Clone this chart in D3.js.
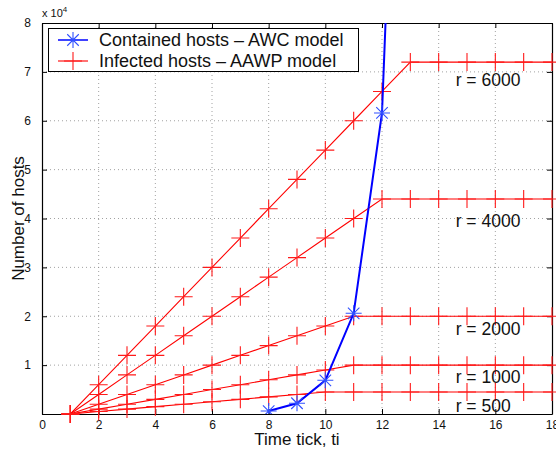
<!DOCTYPE html>
<html><head><meta charset="utf-8">
<script src="https://cdn.jsdelivr.net/npm/d3@7"></script>
<style>
body{margin:0;background:#fff;}
svg{display:block;font-family:"Liberation Sans",Arial,Helvetica,sans-serif;}
</style></head>
<body>
<script>
// ---- data ----
const timeTicks = d3.range(1, 19); // t = 1..18
const rValues = [500, 1000, 2000, 4000, 6000];
const infected500  = [0,500,1000,1500,2000,2500,3000,3500,4000,4500,4500,4500,4500,4500,4500,4500,4500,4500];
const infected1000 = [0,1000,2000,3000,4000,5000,6000,7000,8000,9000,10000,10000,10000,10000,10000,10000,10000,10000];
const infected2000 = [0,2000,4000,6000,8000,10000,12000,14000,16000,18000,20000,20000,20000,20000,20000,20000,20000,20000];
const infected4000 = [0,4000,8000,12000,16000,20000,24000,28000,32000,36000,40000,44000,44000,44000,44000,44000,44000,44000];
const infected6000 = [0,6000,12000,18000,24000,30000,36000,42000,48000,54000,60000,66000,72000,72000,72000,72000,72000,72000];
const containedTicks = [8, 9, 10, 11, 12, 13];
const containedValues = [600, 2200, 6900, 20600, 61600, 210000];
const rLabels = ["r = 500", "r = 1000", "r = 2000", "r = 4000", "r = 6000"];
const rLabelX = [14.6, 14.6, 14.6, 14.6, 14.6];
const rLabelY = [1600, 7600, 17400, 39600, 68300];
const xTickValues = [0,2,4,6,8,10,12,14,16,18];
const yTickValues = [0,10000,20000,30000,40000,50000,60000,70000,80000];
const legendLabels = ["Contained hosts \u2013 AWC model", "Infected hosts \u2013 AAWP model"];
const xLabel = "Time tick, ti";
const yLabel = "Number of hosts";

const infectedSeries = [infected500, infected1000, infected2000, infected4000, infected6000];

// ---- layout ----
const W = 556, H = 451;
const L = 42, R = 552, T = 23, B = 414;
const x = d3.scaleLinear().domain([0, 18]).range([L, R]);
const y = d3.scaleLinear().domain([0, 80000]).range([B, T]);

const svg = d3.select("body").append("svg").attr("width", W).attr("height", H);
svg.append("rect").attr("width", W).attr("height", H).attr("fill", "#fff");

svg.append("defs").append("clipPath").attr("id", "clip")
  .append("rect").attr("x", L).attr("y", T).attr("width", R - L).attr("height", B - T);

// grid
const grid = svg.append("g").attr("stroke", "#8a8a8a").attr("stroke-width", 0.8).attr("stroke-dasharray", "1,3");
grid.selectAll("line.gx").data(xTickValues.filter(v => v > 0 && v < 18)).join("line")
  .attr("x1", d => x(d)).attr("x2", d => x(d)).attr("y1", T).attr("y2", B);
grid.selectAll("line.gy").data(yTickValues.filter(v => v > 0 && v < 80000)).join("line")
  .attr("y1", d => y(d)).attr("y2", d => y(d)).attr("x1", L).attr("x2", R);

// axes
const fmtY = d => d === 0 ? "" : String(d / 10000);
const axB = svg.append("g").attr("transform", `translate(0,${B})`)
  .call(d3.axisBottom(x).tickValues(xTickValues).tickSizeInner(-5).tickSizeOuter(0).tickPadding(6));
const axT = svg.append("g").attr("transform", `translate(0,${T})`)
  .call(d3.axisTop(x).tickValues(xTickValues).tickSizeInner(-5).tickSizeOuter(0).tickFormat(""));
const axL = svg.append("g").attr("transform", `translate(${L},0)`)
  .call(d3.axisLeft(y).tickValues(yTickValues).tickSizeInner(-5).tickSizeOuter(0).tickPadding(11).tickFormat(fmtY));
const axR = svg.append("g").attr("transform", `translate(${R},0)`)
  .call(d3.axisRight(y).tickValues(yTickValues).tickSizeInner(-5).tickSizeOuter(0).tickFormat(""));
[axB, axT, axL, axR].forEach(g => {
  g.selectAll("path.domain").attr("stroke", "#000").attr("stroke-width", 1.2);
  g.selectAll(".tick line").attr("stroke", "#000");
  g.selectAll("text").attr("font-size", 12).attr("fill", "#111")
    .attr("font-family", "'Liberation Sans',Arial,sans-serif");
});

// x 10^4 multiplier
const mult = svg.append("text").attr("x", 42).attr("y", 17).attr("font-size", 11).attr("fill", "#111");
mult.append("tspan").text("x 10");
mult.append("tspan").attr("dy", -5).attr("font-size", 8).text("4");

// red infected lines
const plot = svg.append("g");
const line = d3.line().x((d, i) => x(timeTicks[i])).y(d => y(d));
const redG = plot.append("g").attr("clip-path", "url(#clip)");
infectedSeries.forEach(s => {
  redG.append("path").attr("d", line(s)).attr("fill", "none").attr("stroke", "#ff0000").attr("stroke-width", 1.1);
});
const plusPath = (cx, cy, h) => `M${cx - h},${cy}H${cx + h}M${cx},${cy - h}V${cy + h}`;
const markG = plot.append("g").attr("stroke", "#ff1a1a").attr("stroke-width", 1.1).attr("fill", "none");
infectedSeries.forEach(s => {
  s.forEach((v, i) => {
    markG.append("path").attr("d", plusPath(x(timeTicks[i]), y(v), 9));
  });
});

// blue contained line
const blueG = plot.append("g").attr("clip-path", "url(#clip)");
const bline = d3.line().x((d, i) => x(containedTicks[i])).y(d => y(d));
blueG.append("path").attr("d", bline(containedValues)).attr("fill", "none")
  .attr("stroke", "#0000ff").attr("stroke-width", 2);
const starPath = (cx, cy, h) => {
  const d = h * 0.72;
  return `M${cx - h},${cy}H${cx + h}M${cx},${cy - h}V${cy + h}` +
         `M${cx - d},${cy - d}L${cx + d},${cy + d}M${cx - d},${cy + d}L${cx + d},${cy - d}`;
};
containedValues.forEach((v, i) => {
  blueG.append("path").attr("d", starPath(x(containedTicks[i]), y(v), 8))
    .attr("stroke", "#3050ff").attr("stroke-width", 1.1).attr("fill", "none");
});

// r labels
svg.append("g").selectAll("text").data(rLabels).join("text")
  .attr("x", (d, i) => x(rLabelX[i])).attr("y", (d, i) => y(rLabelY[i]))
  .attr("dy", "0.35em").attr("font-size", 17.5).attr("fill", "#111").text(d => d);

// axis labels
svg.append("text").attr("x", (L + R) / 2).attr("y", 445).attr("text-anchor", "middle")
  .attr("font-size", 17).attr("fill", "#111").text(xLabel);
svg.append("text").attr("transform", `translate(24,${(T + B) / 2}) rotate(-90)`)
  .attr("text-anchor", "middle").attr("font-size", 17).attr("fill", "#111").text(yLabel);

// legend
const lg = svg.append("g");
lg.append("rect").attr("x", 48.5).attr("y", 28.5).attr("width", 310).attr("height", 43)
  .attr("fill", "#fff").attr("stroke", "#000").attr("stroke-width", 1);
const rows = [{c: "#0000ff", m: "star"}, {c: "#ff0000", m: "plus"}];
rows.forEach((r, i) => {
  const cy = 40 + i * 21;
  lg.append("line").attr("x1", 58).attr("x2", 88).attr("y1", cy).attr("y2", cy)
    .attr("stroke", r.c).attr("stroke-width", i === 0 ? 1.5 : 1.1);
  lg.append("path").attr("d", r.m === "star" ? starPath(73, cy, 8) : plusPath(73, cy, 9))
    .attr("stroke", i === 0 ? "#3050ff" : "#ff1a1a").attr("stroke-width", 1.1).attr("fill", "none");
  lg.append("text").attr("x", 99).attr("y", cy).attr("dy", "0.36em").attr("font-size", 18)
    .attr("fill", "#111").text(legendLabels[i]);
});
</script>
</body></html>
